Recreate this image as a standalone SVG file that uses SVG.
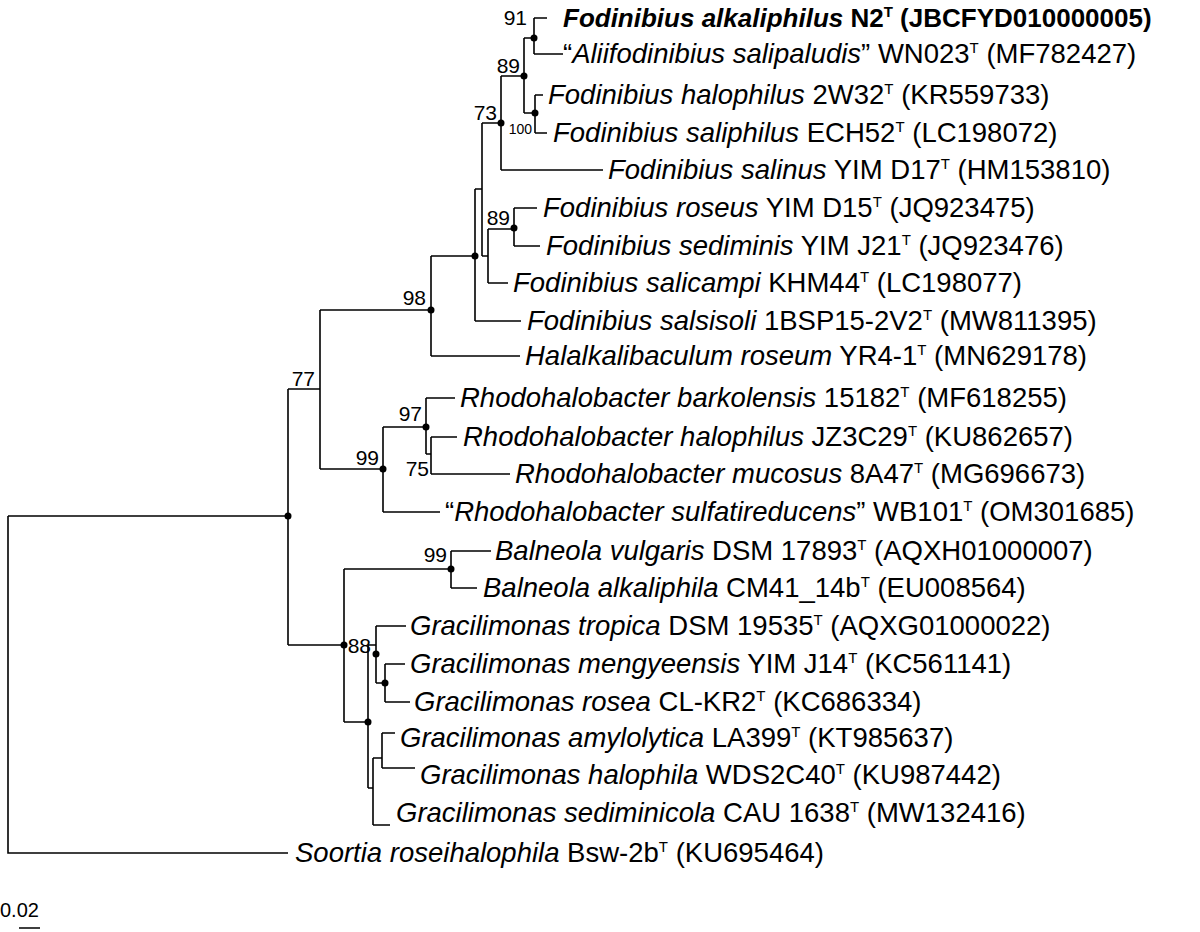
<svg xmlns="http://www.w3.org/2000/svg" width="1200" height="932" viewBox="0 0 1200 932">
<style>
.e{stroke:#000;stroke-width:1.6;fill:none}
.t{font-family:"Liberation Sans",Arial,sans-serif;font-size:27.5px;fill:#000}
.i{font-style:italic}
.b{font-size:21px;fill:#000;font-family:"Liberation Sans",Arial,sans-serif;text-anchor:end}
.s{font-size:15px}
.d{fill:#000}
</style>
<rect width="1200" height="932" fill="#fff"/>
<g id="connectors">
<path class="e" d="M8,516V853H288M8,516H288M288,389V645M288,389H320M320,310V469M320,310H431M431,256V356M431,256H475M475,189V321M475,189H482M482,123V256M482,123H501M501,76V170M501,170H603M501,76H524M524,38V113M524,38H534M534,18V54M534,18H547M534,54H563M524,113H535M535,95V133M535,95H543M535,133H547M482,256H488M488,229V283M488,229H514M514,208V246M514,208H537M514,246H540M488,283H508M475,321H521M431,356H520M320,469H383M383,427V512M383,427H426M426,398V454M426,398H455M426,454H431M431,437V474M431,437H457M431,474H510M383,512H440M288,645H344M344,569V722M344,569H451M451,551V588M451,551H491M451,588H477M344,722H368M368,645V788M368,645H376M376,626V683M376,626H406M376,683H385M385,664V702M385,664H405M385,702H410M368,788H373M373,758V825M373,758H382M382,733V768M382,733H395M382,768H415M373,825H390M19,928H40"/>
<g class="d">
<circle cx="534" cy="38" r="3.5"/><circle cx="524" cy="76" r="3.5"/><circle cx="535" cy="113" r="3.5"/><circle cx="501" cy="123" r="3.5"/><circle cx="514" cy="228" r="3.5"/><circle cx="475" cy="256" r="3.5"/><circle cx="431" cy="310" r="3.5"/><circle cx="426" cy="427" r="3.5"/><circle cx="383" cy="469" r="3.5"/><circle cx="288" cy="516" r="3.5"/><circle cx="451" cy="569" r="3.5"/><circle cx="344" cy="645" r="3.5"/><circle cx="376" cy="654" r="3.5"/><circle cx="385" cy="683" r="3.5"/><circle cx="368" cy="722" r="3.5"/>
</g>
</g>
<g id="bootstrap">
<text class="b" x="527" y="25">91</text>
<text class="b" x="520" y="73">89</text>
<text class="b" x="497" y="120">73</text>
<text class="b" x="532" y="134" style="font-size:14px">100</text>
<text class="b" x="510" y="225">89</text>
<text class="b" x="426" y="305">98</text>
<text class="b" x="315" y="386">77</text>
<text class="b" x="422" y="421">97</text>
<text class="b" x="429" y="476">75</text>
<text class="b" x="379" y="465">99</text>
<text class="b" x="447" y="562">99</text>
<text class="b" x="371" y="653">88</text>
</g>
<g id="n1"><text class="t" x="563" y="27" style="font-weight:bold;font-size:26px"><tspan class="i">Fodinibius alkaliphilus</tspan> N2<tspan class="s" dy="-10">T</tspan><tspan dy="10"> (JBCFYD010000005)</tspan></text></g>
<g id="n2"><text class="t" x="563" y="63">“<tspan class="i">Aliifodinibius salipaludis</tspan>” WN023<tspan class="s" dy="-10">T</tspan><tspan dy="10"> (MF782427)</tspan></text></g>
<g id="n3"><text class="t" x="548" y="104"><tspan class="i">Fodinibius halophilus</tspan> 2W32<tspan class="s" dy="-10">T</tspan><tspan dy="10"> (KR559733)</tspan></text></g>
<g id="n4"><text class="t" x="553" y="142"><tspan class="i">Fodinibius saliphilus</tspan> ECH52<tspan class="s" dy="-10">T</tspan><tspan dy="10"> (LC198072)</tspan></text></g>
<g id="n5"><text class="t" x="608" y="179"><tspan class="i">Fodinibius salinus</tspan> YIM D17<tspan class="s" dy="-10">T</tspan><tspan dy="10"> (HM153810)</tspan></text></g>
<g id="n6"><text class="t" x="543" y="217"><tspan class="i">Fodinibius roseus</tspan> YIM D15<tspan class="s" dy="-10">T</tspan><tspan dy="10"> (JQ923475)</tspan></text></g>
<g id="n7"><text class="t" x="546" y="255"><tspan class="i">Fodinibius sediminis</tspan> YIM J21<tspan class="s" dy="-10">T</tspan><tspan dy="10"> (JQ923476)</tspan></text></g>
<g id="n8"><text class="t" x="513" y="292"><tspan class="i">Fodinibius salicampi</tspan> KHM44<tspan class="s" dy="-10">T</tspan><tspan dy="10"> (LC198077)</tspan></text></g>
<g id="n9"><text class="t" x="527" y="330"><tspan class="i">Fodinibius salsisoli</tspan> 1BSP15-2V2<tspan class="s" dy="-10">T</tspan><tspan dy="10"> (MW811395)</tspan></text></g>
<g id="n10"><text class="t" x="525" y="365"><tspan class="i">Halalkalibaculum roseum</tspan> YR4-1<tspan class="s" dy="-10">T</tspan><tspan dy="10"> (MN629178)</tspan></text></g>
<g id="n11"><text class="t" x="460" y="407"><tspan class="i">Rhodohalobacter barkolensis</tspan> 15182<tspan class="s" dy="-10">T</tspan><tspan dy="10"> (MF618255)</tspan></text></g>
<g id="n12"><text class="t" x="463" y="446"><tspan class="i">Rhodohalobacter halophilus</tspan> JZ3C29<tspan class="s" dy="-10">T</tspan><tspan dy="10"> (KU862657)</tspan></text></g>
<g id="n13"><text class="t" x="515" y="483"><tspan class="i">Rhodohalobacter mucosus</tspan> 8A47<tspan class="s" dy="-10">T</tspan><tspan dy="10"> (MG696673)</tspan></text></g>
<g id="n14"><text class="t" x="445" y="521">“<tspan class="i">Rhodohalobacter sulfatireducens</tspan>” WB101<tspan class="s" dy="-10">T</tspan><tspan dy="10"> (OM301685)</tspan></text></g>
<g id="n15"><text class="t" x="495" y="560"><tspan class="i">Balneola vulgaris</tspan> DSM 17893<tspan class="s" dy="-10">T</tspan><tspan dy="10"> (AQXH01000007)</tspan></text></g>
<g id="n16"><text class="t" x="483" y="597"><tspan class="i">Balneola alkaliphila</tspan> CM41_14b<tspan class="s" dy="-10">T</tspan><tspan dy="10"> (EU008564)</tspan></text></g>
<g id="n17"><text class="t" x="410" y="635"><tspan class="i">Gracilimonas tropica</tspan> DSM 19535<tspan class="s" dy="-10">T</tspan><tspan dy="10"> (AQXG01000022)</tspan></text></g>
<g id="n18"><text class="t" x="410" y="673"><tspan class="i">Gracilimonas mengyeensis</tspan> YIM J14<tspan class="s" dy="-10">T</tspan><tspan dy="10"> (KC561141)</tspan></text></g>
<g id="n19"><text class="t" x="414" y="711"><tspan class="i">Gracilimonas rosea</tspan> CL-KR2<tspan class="s" dy="-10">T</tspan><tspan dy="10"> (KC686334)</tspan></text></g>
<g id="n20"><text class="t" x="400" y="747"><tspan class="i">Gracilimonas amylolytica</tspan> LA399<tspan class="s" dy="-10">T</tspan><tspan dy="10"> (KT985637)</tspan></text></g>
<g id="n21"><text class="t" x="420" y="784"><tspan class="i">Gracilimonas halophila</tspan> WDS2C40<tspan class="s" dy="-10">T</tspan><tspan dy="10"> (KU987442)</tspan></text></g>
<g id="n22"><text class="t" x="396" y="822"><tspan class="i">Gracilimonas sediminicola</tspan> CAU 1638<tspan class="s" dy="-10">T</tspan><tspan dy="10"> (MW132416)</tspan></text></g>
<g id="n23"><text class="t" x="295" y="862"><tspan class="i">Soortia roseihalophila</tspan> Bsw-2b<tspan class="s" dy="-10">T</tspan><tspan dy="10"> (KU695464)</tspan></text></g>
<g id="scale"><text class="t" x="0" y="917" style="font-size:20px">0.02</text></g>
</svg>
